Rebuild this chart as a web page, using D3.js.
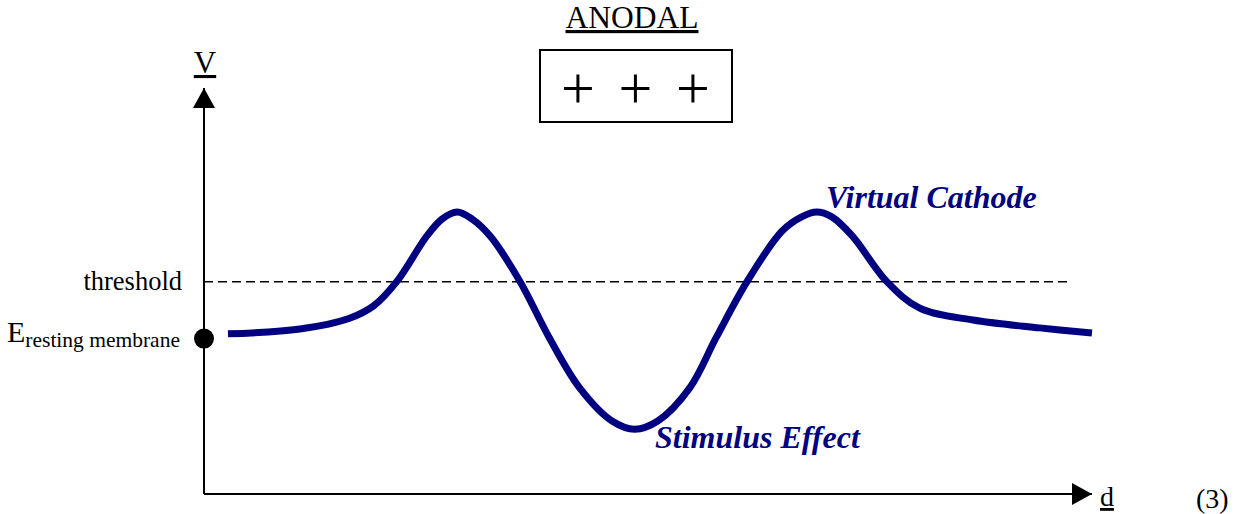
<!DOCTYPE html>
<html>
<head>
<meta charset="utf-8">
<script src="https://cdn.jsdelivr.net/npm/d3@7"></script>
<style>
  body { margin: 0; background: #fff; }
</style>
</head>
<body>
<svg id="chart"></svg>
<script>
const width = 1242;
const height = 514;

// curve: distance d (arbitrary units) vs membrane potential V (mV-like units)
const dValues = [2.7, 10.8, 16.4, 19.1, 21.7, 25.1, 26.8, 28.5, 30.2, 32.2, 35.6, 38.85, 42.3, 45.95, 48.5,
                 51.1, 54.7, 57.7, 61.15, 65.1, 67.3, 69.0, 70.7, 73.0, 76.9, 80.6, 86.6, 94.1, 100];
const vValues = [-69.0, -67.7, -64.8, -61.5, -55, -42.7, -38.2, -36.3, -38.2, -42.7, -55, -69.9, -83.5, -92.4, -94.6,
                 -92.4, -83.5, -69.9, -55, -41.4, -37.6, -36.3, -37.6, -42.7, -55, -62.1, -65.3, -67.4, -68.8];

const restingV = -70;
const thresholdV = -55;
const thresholdEnd = 97.5;
const plusSigns = ["+", "+", "+"];

const serif = "'Liberation Serif', 'Times New Roman', Times, serif";

const svg = d3.select("#chart")
    .attr("width", width)
    .attr("height", height)
    .style("font-family", serif);

const xScale = d3.scaleLinear().domain([0, 100]).range([204, 1092]);
const yScale = d3.scaleLinear().domain([-112, -3]).range([494, 88]);

// arrow heads
const defs = svg.append("defs");
defs.append("marker")
    .attr("id", "arrow")
    .attr("viewBox", "0 0 20 22")
    .attr("refX", 20)
    .attr("refY", 11)
    .attr("markerWidth", 20)
    .attr("markerHeight", 22)
    .attr("markerUnits", "userSpaceOnUse")
    .attr("orient", "auto")
    .append("path")
    .attr("d", "M0,0 L20,11 L0,22 Z")
    .attr("fill", "#000");

// axes
svg.append("line")
    .attr("x1", xScale(0)).attr("y1", yScale(-112))
    .attr("x2", xScale(0)).attr("y2", yScale(-3))
    .attr("stroke", "#000").attr("stroke-width", 2)
    .attr("marker-end", "url(#arrow)");

svg.append("line")
    .attr("x1", xScale(0)).attr("y1", yScale(-112))
    .attr("x2", xScale(100)).attr("y2", yScale(-112))
    .attr("stroke", "#000").attr("stroke-width", 2)
    .attr("marker-end", "url(#arrow)");

// threshold
svg.append("line")
    .attr("x1", xScale(0)).attr("y1", yScale(thresholdV))
    .attr("x2", xScale(thresholdEnd)).attr("y2", yScale(thresholdV))
    .attr("stroke", "#000").attr("stroke-width", 1.5)
    .attr("stroke-dasharray", "9,5");

svg.append("text")
    .attr("x", 182).attr("y", yScale(thresholdV) + 8)
    .attr("text-anchor", "end")
    .attr("font-size", 26.5)
    .text("threshold");

// resting membrane
svg.append("circle")
    .attr("cx", xScale(0)).attr("cy", yScale(restingV) + 1)
    .attr("r", 10)
    .attr("fill", "#000");

const eLabel = svg.append("text")
    .attr("x", 7).attr("y", yScale(restingV) + 4);
eLabel.append("tspan").attr("font-size", 30).text("E");
eLabel.append("tspan").attr("font-size", 21.5).attr("dy", 5).text("resting membrane");

// curve
const points = dValues.map((d, i) => [d, vValues[i]]);
const line = d3.line()
    .x(p => xScale(p[0]))
    .y(p => yScale(p[1]))
    .curve(d3.curveCatmullRom.alpha(0.5));

svg.append("path")
    .datum(points)
    .attr("d", line)
    .attr("fill", "none")
    .attr("stroke", "#000080")
    .attr("stroke-width", 7)
    .attr("stroke-linejoin", "round");

// annotations
svg.append("text")
    .attr("x", 826).attr("y", 208)
    .attr("fill", "#000080")
    .attr("font-size", 32).attr("font-weight", "bold").attr("font-style", "italic")
    .text("Virtual Cathode");

svg.append("text")
    .attr("x", 655).attr("y", 448)
    .attr("fill", "#000080")
    .attr("font-size", 32).attr("font-weight", "bold").attr("font-style", "italic")
    .text("Stimulus Effect");

// axis labels
svg.append("text")
    .attr("x", 205).attr("y", 73)
    .attr("text-anchor", "middle")
    .attr("font-size", 31)
    .attr("text-decoration", "underline")
    .text("V");

svg.append("text")
    .attr("x", 1100).attr("y", 506)
    .attr("font-size", 28)
    .attr("text-decoration", "underline")
    .text("d");

svg.append("text")
    .attr("x", 1196).attr("y", 508)
    .attr("font-size", 28)
    .text("(3)");

// electrode box
svg.append("text")
    .attr("x", 632).attr("y", 28)
    .attr("text-anchor", "middle")
    .attr("font-size", 31.5)
    .attr("text-decoration", "underline")
    .text("ANODAL");

svg.append("rect")
    .attr("x", 540).attr("y", 50)
    .attr("width", 192).attr("height", 72)
    .attr("fill", "none")
    .attr("stroke", "#000").attr("stroke-width", 2);

const plusX = d3.scalePoint().domain(d3.range(plusSigns.length)).range([578, 693]);
svg.selectAll(".plus")
    .data(plusSigns)
    .enter()
    .append("text")
    .attr("class", "plus")
    .attr("x", (d, i) => plusX(i))
    .attr("y", 108)
    .attr("text-anchor", "middle")
    .attr("font-size", 60)
    .text(d => d);
</script>
</body>
</html>
